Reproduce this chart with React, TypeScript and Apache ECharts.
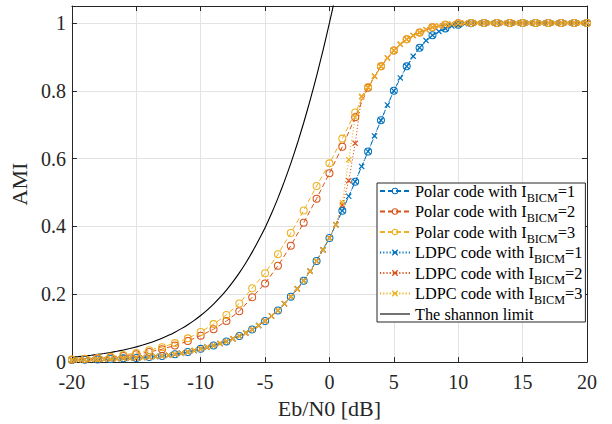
import React, { useEffect, useRef } from 'react';
import * as echarts from 'echarts';

// Eb/N0 grids [dB]
const snrPolar: number[] = Array.from({ length: 41 }, (_, i) => -20 + i);
const snrLdpc: number[] = Array.from({ length: 81 }, (_, i) => -20 + i * 0.5);
const snrShannon: number[] = [
  -20, -19.5, -19, -18.5, -18, -17.5, -17, -16.5, -16, -15.5, -15, -14.5, -14, -13.5,
  -13, -12.5, -12, -11.5, -11, -10.5, -10, -9.5, -9, -8.5, -8, -7.5, -7, -6.5, -6,
  -5.5, -5, -4.5, -4, -3.5, -3, -2.5, -2, -1.5, -1, -0.5, 0, 0.5,
];

const polar1: number[] = [
  0.006, 0.007, 0.008, 0.009, 0.011, 0.012, 0.015, 0.018, 0.023, 0.030, 0.039,
  0.049, 0.061, 0.077, 0.096, 0.121, 0.152, 0.193, 0.240, 0.298, 0.366,
  0.446, 0.532, 0.621, 0.713, 0.800, 0.872, 0.927, 0.964, 0.984, 0.995,
  0.999, 1, 1, 1, 1, 1, 1, 1, 1, 1,
];
const polar2: number[] = [
  0.007, 0.009, 0.011, 0.014, 0.018, 0.023, 0.030, 0.038, 0.049, 0.062, 0.078,
  0.097, 0.121, 0.150, 0.191, 0.232, 0.284, 0.343, 0.411, 0.482, 0.557,
  0.635, 0.722, 0.809, 0.872, 0.919, 0.952, 0.972, 0.987, 0.995, 0.999,
  1, 1, 1, 1, 1, 1, 1, 1, 1, 1,
];
const polar3: number[] = [
  0.008, 0.010, 0.012, 0.016, 0.021, 0.027, 0.035, 0.044, 0.056, 0.070, 0.089,
  0.112, 0.139, 0.173, 0.218, 0.262, 0.318, 0.381, 0.447, 0.519, 0.586,
  0.659, 0.736, 0.811, 0.872, 0.919, 0.952, 0.972, 0.987, 0.995, 0.999,
  1, 1, 1, 1, 1, 1, 1, 1, 1, 1,
];
const ldpc1: number[] = [
  0.006, 0.0065, 0.007, 0.0075, 0.008, 0.0085, 0.009, 0.010, 0.011, 0.0115,
  0.012, 0.0135, 0.015, 0.0165, 0.018, 0.020, 0.023, 0.026, 0.030, 0.034,
  0.039, 0.044, 0.049, 0.055, 0.061, 0.069, 0.077, 0.086, 0.096, 0.108,
  0.121, 0.136, 0.152, 0.172, 0.193, 0.216, 0.240, 0.268, 0.298, 0.331,
  0.366, 0.405, 0.446, 0.489, 0.532, 0.577, 0.621, 0.667, 0.713, 0.758,
  0.800, 0.838, 0.872, 0.902, 0.927, 0.948, 0.964, 0.975, 0.984, 0.991,
  0.995, 0.998, 0.999, 1, 1, 1, 1, 1, 1, 1, 1, 1, 1, 1, 1, 1, 1, 1, 1, 1, 1,
];
const ldpc2: number[] = [
  0.006, 0.0065, 0.007, 0.0075, 0.008, 0.0085, 0.009, 0.010, 0.011, 0.0115,
  0.012, 0.0135, 0.015, 0.0165, 0.018, 0.020, 0.023, 0.026, 0.030, 0.034,
  0.039, 0.044, 0.049, 0.055, 0.061, 0.069, 0.077, 0.086, 0.096, 0.108,
  0.121, 0.136, 0.152, 0.172, 0.193, 0.216, 0.240, 0.268, 0.298, 0.331,
  0.366, 0.405, 0.463, 0.535, 0.645, 0.783, 0.810, 0.843, 0.872, 0.897,
  0.919, 0.937, 0.952, 0.963, 0.972, 0.980, 0.987, 0.991, 0.995, 0.997,
  0.999, 1, 1, 1, 1, 1, 1, 1, 1, 1, 1, 1, 1, 1, 1, 1, 1, 1, 1, 1, 1,
];
const ldpc3: number[] = [
  0.006, 0.0065, 0.007, 0.0075, 0.008, 0.0085, 0.009, 0.010, 0.011, 0.0115,
  0.012, 0.0135, 0.015, 0.0165, 0.018, 0.020, 0.023, 0.026, 0.030, 0.034,
  0.039, 0.044, 0.049, 0.055, 0.061, 0.069, 0.077, 0.086, 0.096, 0.108,
  0.121, 0.136, 0.152, 0.172, 0.193, 0.216, 0.240, 0.268, 0.298, 0.331,
  0.366, 0.405, 0.470, 0.597, 0.722, 0.783, 0.810, 0.843, 0.872, 0.897,
  0.919, 0.937, 0.952, 0.963, 0.972, 0.980, 0.987, 0.991, 0.995, 0.997,
  0.999, 1, 1, 1, 1, 1, 1, 1, 1, 1, 1, 1, 1, 1, 1, 1, 1, 1, 1, 1, 1,
];
const shannon: number[] = [
  0.0144, 0.0161, 0.0181, 0.0202, 0.0227, 0.0254, 0.0285, 0.0319, 0.0358, 0.0401,
  0.0449, 0.0503, 0.0563, 0.0630, 0.0705, 0.0789, 0.0883, 0.0987, 0.1102, 0.1231,
  0.1375, 0.1534, 0.1711, 0.1907, 0.2125, 0.2365, 0.2630, 0.2922, 0.3243, 0.3595,
  0.3964, 0.4381, 0.4835, 0.5328, 0.5861, 0.6437, 0.7058, 0.7722, 0.8434, 0.9194,
  1.0, 1.0855,
];

const xTickValues = [-20, -15, -10, -5, 0, 5, 10, 15, 20];

const FONT = 'Liberation Serif';
const AX = '#262626';
const GRID = '#e3e3e3';
const BLUE = '#0072BD';
const RED = '#D95319';
const YELLOW = '#EDB120';

const RING =
  'path://M5,0 A5,5 0 1,1 5,10 A5,5 0 1,1 5,0 Z M5,1.3 A3.7,3.7 0 1,0 5,8.7 A3.7,3.7 0 1,0 5,1.3 Z';
const CROSS = 'path://M0,1.4L1.4,0L10,8.6L8.6,10Z M8.6,0L10,1.4L1.4,10L0,8.6Z';

function makeSeries(name: string, xs: number[], ys: number[], color: string, kind: 'polar' | 'ldpc') {
  return {
    name,
    type: 'line',
    data: xs.map((x, i) => [x, ys[i]]),
    symbol: kind === 'polar' ? RING : CROSS,
    symbolSize: kind === 'polar' ? 8 : 6,
    showAllSymbol: true,
    lineStyle: { color, width: 1, type: kind === 'polar' ? [5, 3] : [1.2, 2] },
    itemStyle: { color },
    emphasis: { disabled: true },
  };
}

export default function App() {
  const ref = useRef<HTMLDivElement>(null);
  useEffect(() => {
    if (!ref.current) return;
    const chart = echarts.init(ref.current, undefined, { renderer: 'svg' });
    const axisCommon = {
      axisLine: { show: true, onZero: false, lineStyle: { color: AX, width: 1 } },
      axisTick: { show: true, inside: true, length: 5, lineStyle: { color: AX, width: 1 } },
    };
    chart.setOption({
      animation: false,
      backgroundColor: '#ffffff',
      textStyle: { fontFamily: FONT },
      grid: { left: 70, right: 25, top: 6, bottom: 57, containLabel: false },
      legend: {
        orient: 'vertical',
        left: 377,
        top: 183,
        itemGap: 0,
        itemWidth: 30,
        itemHeight: 8,
        padding: [0, 3, 0, 2],
        borderColor: AX,
        borderWidth: 1,
        backgroundColor: '#ffffff',
        selectedMode: false,
        data: [
          'Polar code with I_BICM=1',
          'Polar code with I_BICM=2',
          'Polar code with I_BICM=3',
          'LDPC code with I_BICM=1',
          'LDPC code with I_BICM=2',
          'LDPC code with I_BICM=3',
          { name: 'The shannon limit', icon: 'path://M0,0H30V1.1H0Z' },
        ],
        formatter: (name: string) => {
          const m = name.match(/^(.*) with I_BICM=(\d)$/);
          if (m) return `{a|${m[1]} with I}{s|BICM}{a|=${m[2]}}`;
          return `{a|${name}}`;
        },
        textStyle: {
          fontFamily: FONT,
          fontSize: 16.3,
          color: '#000',
          rich: {
            a: { fontFamily: FONT, fontSize: 16.3, color: '#000', lineHeight: 25, verticalAlign: 'middle' },
            s: { fontFamily: FONT, fontSize: 12.2, color: '#000', lineHeight: 12.2, verticalAlign: 'bottom' },
          },
        },
      },
      xAxis: [
        {
          type: 'value',
          min: -20,
          max: 20,
          interval: 5,
          position: 'bottom',
          ...axisCommon,
          axisLabel: {
            color: AX,
            fontFamily: FONT,
            fontSize: 20,
            margin: 10,
            formatter: (v: number) => (xTickValues.includes(v) ? String(v) : ''),
          },
          splitLine: { show: true, lineStyle: { color: GRID, width: 1 } },
          name: 'Eb/N0 [dB]',
          nameLocation: 'middle',
          nameGap: 33,
          nameTextStyle: { color: AX, fontFamily: FONT, fontSize: 22 },
        },
        {
          type: 'value',
          min: -20,
          max: 20,
          interval: 5,
          position: 'top',
          ...axisCommon,
          axisLabel: { show: false },
          splitLine: { show: false },
        },
      ],
      yAxis: [
        {
          type: 'value',
          min: 0,
          max: 1.05,
          interval: 0.2,
          position: 'left',
          ...axisCommon,
          axisLabel: {
            color: AX,
            fontFamily: FONT,
            fontSize: 20,
            margin: 6,
            showMaxLabel: false,
            formatter: (v: number) => (v > 1.001 ? '' : String(Math.round(v * 10) / 10)),
          },
          splitLine: { show: true, lineStyle: { color: GRID, width: 1 } },
          name: 'AMI',
          nameLocation: 'middle',
          nameGap: 33,
          nameTextStyle: { color: AX, fontFamily: FONT, fontSize: 22 },
        },
        {
          type: 'value',
          min: 0,
          max: 1.05,
          interval: 0.2,
          position: 'right',
          ...axisCommon,
          axisLabel: { show: false },
          splitLine: { show: false },
        },
      ],
      series: [
        makeSeries('Polar code with I_BICM=1', snrPolar, polar1, BLUE, 'polar'),
        makeSeries('Polar code with I_BICM=2', snrPolar, polar2, RED, 'polar'),
        makeSeries('Polar code with I_BICM=3', snrPolar, polar3, YELLOW, 'polar'),
        makeSeries('LDPC code with I_BICM=1', snrLdpc, ldpc1, BLUE, 'ldpc'),
        makeSeries('LDPC code with I_BICM=2', snrLdpc, ldpc2, RED, 'ldpc'),
        makeSeries('LDPC code with I_BICM=3', snrLdpc, ldpc3, YELLOW, 'ldpc'),
        {
          name: 'The shannon limit',
          type: 'line',
          data: snrShannon.map((x, i) => [x, shannon[i]]),
          symbol: 'none',
          smooth: 0.2,
          lineStyle: { color: '#000', width: 1.1, type: 'solid' },
          itemStyle: { color: '#000' },
          emphasis: { disabled: true },
        },
      ],
    });
    return () => chart.dispose();
  }, []);
  return (
    <div
      ref={ref}
      style={{ position: 'fixed', left: 0, top: 0, width: 612, height: 424, background: '#fff' }}
    />
  );
}
